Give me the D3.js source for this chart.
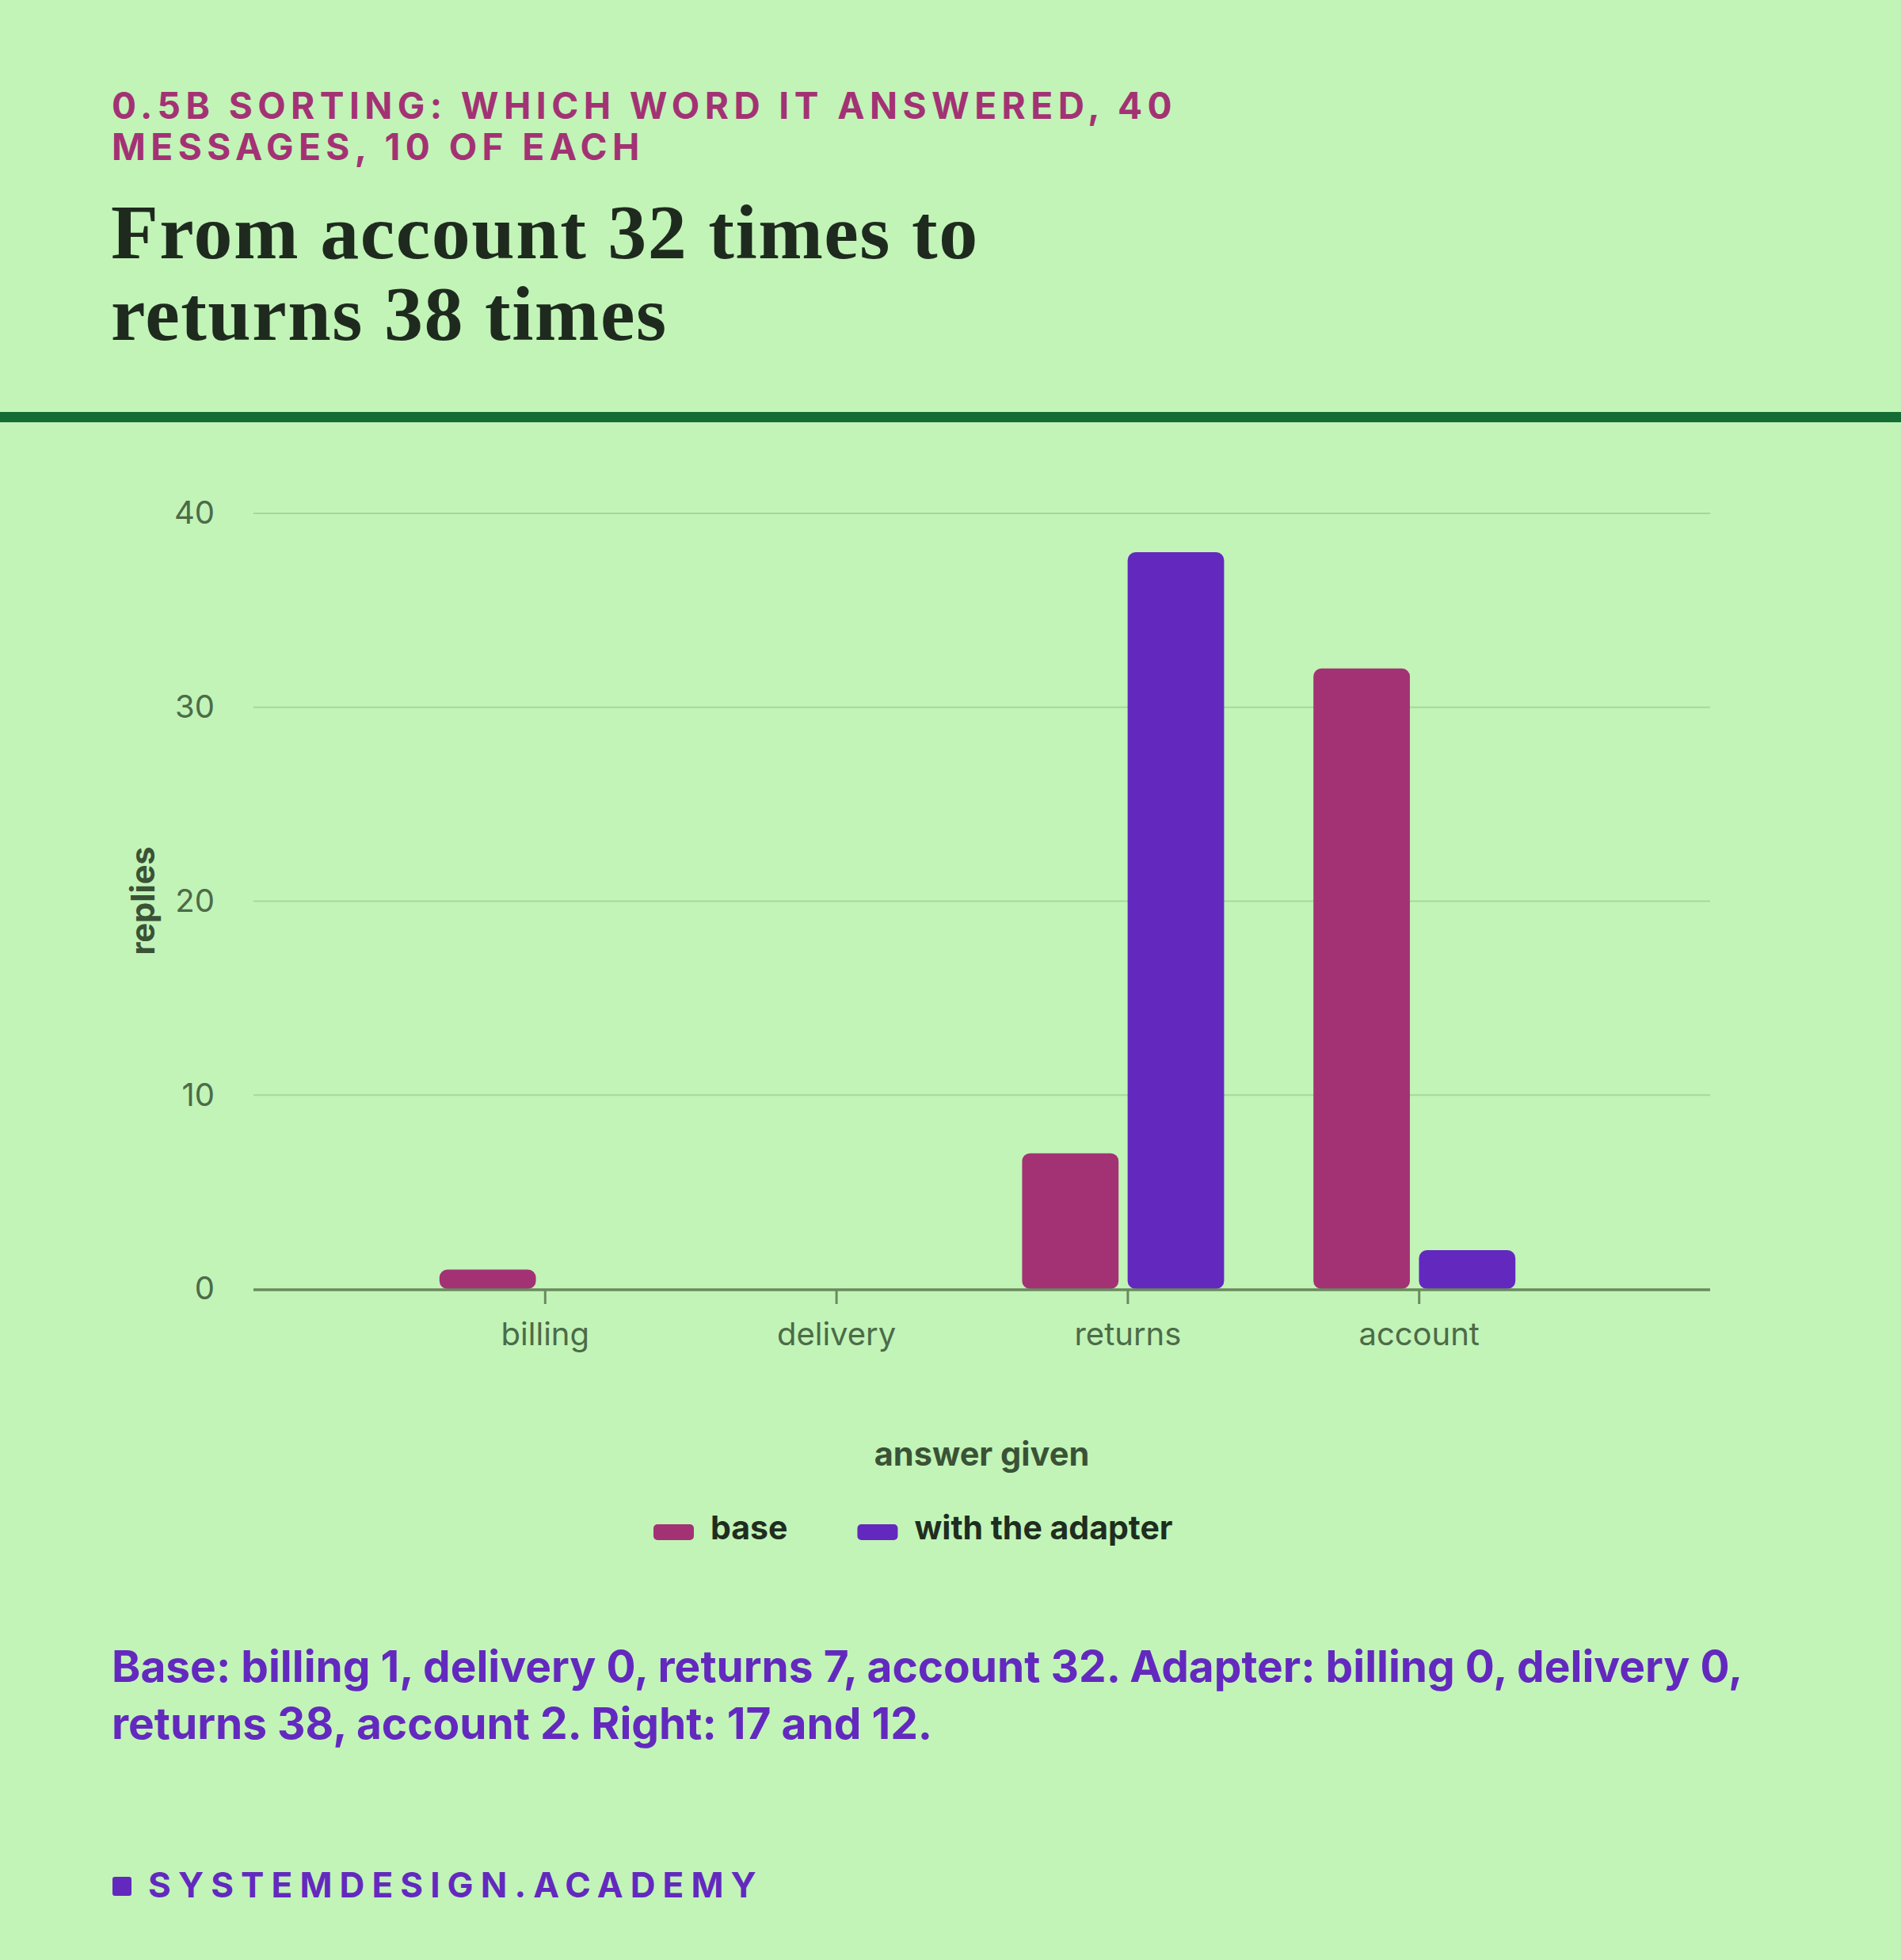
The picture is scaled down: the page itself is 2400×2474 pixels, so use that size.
<!DOCTYPE html>
<html>
<head>
<meta charset="utf-8">
<script src="https://cdn.jsdelivr.net/npm/d3@7"></script>
<style>
  html, body { margin: 0; padding: 0; background: #c2f4b8; }
  svg { display: block; }
</style>
</head>
<body>
<svg id="chart" width="2400" height="2474"></svg>
<script>
// ---- data ----
const categories = ["billing", "delivery", "returns", "account"];
const seriesNames = ["base", "with the adapter"];
const baseValues = [1, 0, 7, 32];
const adapterValues = [0, 0, 38, 2];
const yTicks = [0, 10, 20, 30, 40];
const kicker = ["0.5B SORTING: WHICH WORD IT ANSWERED, 40", "MESSAGES, 10 OF EACH"];
const titleLines = ["From account 32 times to", "returns 38 times"];
const captionLines = [
  "Base: billing 1, delivery 0, returns 7, account 32. Adapter: billing 0, delivery 0,",
  "returns 38, account 2. Right: 17 and 12."
];
const footer = "SYSTEMDESIGN.ACADEMY";

const colors = { "base": "#a33274", "with the adapter": "#6329bf" };
const SANS = "Inter, 'Noto Sans', 'Liberation Sans', sans-serif";
const SERIF = "'Liberation Serif', 'DejaVu Serif', serif";

(function () {
const svg = d3.select("#chart");
svg.append("rect").attr("width", 2400).attr("height", 2474).attr("fill", "#c2f4b8");

// ---- header ----
svg.append("g").selectAll("text").data(kicker).join("text")
  .attr("x", 141).attr("y", (d, i) => 150 + i * 52)
  .attr("font-family", SANS).attr("font-weight", 700).attr("font-size", 46)
  .attr("letter-spacing", "0.14em").attr("fill", "#a33274")
  .text(d => d);

svg.append("g").selectAll("text").data(titleLines).join("text")
  .attr("x", 140).attr("y", (d, i) => 326 + i * 103)
  .attr("font-family", SERIF).attr("font-weight", 700).attr("font-size", 98)
  .attr("letter-spacing", "1.5px")
  .attr("fill", "#1f2a1f")
  .text(d => d);

svg.append("rect").attr("x", 0).attr("y", 520).attr("width", 2400).attr("height", 13)
  .attr("fill", "#146c35");

// ---- chart ----
const pLeft = 320, pRight = 2159, pTop = 648, pBottom = 1627;
const x = d3.scalePoint().domain(categories).range([pLeft, pRight]).padding(1);
const xs = d3.scaleBand().domain(seriesNames).range([-133, 122]).paddingInner(0.086);
const y = d3.scaleLinear().domain([0, 40]).range([pBottom, pTop]);

// gridlines
svg.append("g").selectAll("line").data(yTicks.filter(t => t > 0)).join("line")
  .attr("x1", pLeft).attr("x2", pRight)
  .attr("y1", d => y(d)).attr("y2", d => y(d))
  .attr("stroke", "#a6d79c").attr("stroke-width", 2);

// y axis labels
const yAxis = svg.append("g").attr("transform", `translate(${pLeft},0)`)
  .call(d3.axisLeft(y).tickValues(yTicks).tickSize(0).tickPadding(49));
yAxis.select(".domain").remove();
yAxis.selectAll("text").attr("font-family", SANS).attr("font-size", 40)
  .attr("fill", "#4c6b48");

// bars
const rows = categories.map((c, i) => ({ cat: c, vals: [
  { s: seriesNames[0], v: baseValues[i] },
  { s: seriesNames[1], v: adapterValues[i] }
]}));
const gBars = svg.append("g");
rows.forEach(r => {
  gBars.selectAll(null).data(r.vals.filter(d => d.v > 0)).join("rect")
    .attr("x", d => x(r.cat) + xs(d.s))
    .attr("width", xs.bandwidth())
    .attr("y", d => y(d.v))
    .attr("height", d => y(0) - y(d.v))
    .attr("rx", 10).attr("ry", 10)
    .attr("fill", d => colors[d.s]);
});

// x axis
const xAxis = svg.append("g").attr("transform", `translate(0,${pBottom + 1})`)
  .call(d3.axisBottom(x).tickSize(18).tickPadding(24).tickSizeOuter(0));
xAxis.select(".domain").attr("d", `M${pLeft},0H${pRight}`)
  .attr("stroke", "#6a8a5e").attr("stroke-width", 3.5);
xAxis.selectAll(".tick line").attr("stroke", "#6a8a5e").attr("stroke-width", 3);
xAxis.selectAll("text").attr("font-family", SANS).attr("font-size", 40)
  .attr("fill", "#4c6b48");

// axis titles
svg.append("text")
  .attr("transform", "translate(195,1137) rotate(-90)")
  .attr("text-anchor", "middle")
  .attr("font-family", SANS).attr("font-weight", 700).attr("font-size", 41.5)
  .attr("fill", "#3a5236").text("replies");

svg.append("text")
  .attr("x", (pLeft + pRight) / 2).attr("y", 1850)
  .attr("text-anchor", "middle")
  .attr("font-family", SANS).attr("font-weight", 700).attr("font-size", 41.5)
  .attr("fill", "#3a5236").text("answer given");

// legend
let lx = 825;
const legend = svg.append("g");
seriesNames.forEach(s => {
  legend.append("rect").attr("x", lx).attr("y", 1924).attr("width", 51).attr("height", 20)
    .attr("rx", 5).attr("fill", colors[s]);
  const t = legend.append("text").attr("x", lx + 72).attr("y", 1943)
    .attr("font-family", SANS).attr("font-weight", 700).attr("font-size", 41)
    .attr("fill", "#1f2d1f").text(s);
  lx = lx + 72 + t.node().getComputedTextLength() + 88;
});

// caption
svg.append("g").selectAll("text").data(captionLines).join("text")
  .attr("x", 141).attr("y", (d, i) => 2123 + i * 72)
  .attr("font-family", SANS).attr("font-weight", 700).attr("font-size", 55)
  .attr("fill", "#6329bf").text(d => d);

// footer
svg.append("rect").attr("x", 142).attr("y", 2369).attr("width", 24).attr("height", 24)
  .attr("rx", 3).attr("fill", "#6329bf");
svg.append("text").attr("x", 187).attr("y", 2395)
  .attr("font-family", SANS).attr("font-weight", 700).attr("font-size", 44)
  .attr("letter-spacing", "0.207em")
  .attr("fill", "#6329bf").text(footer);
})();
</script>
</body>
</html>
